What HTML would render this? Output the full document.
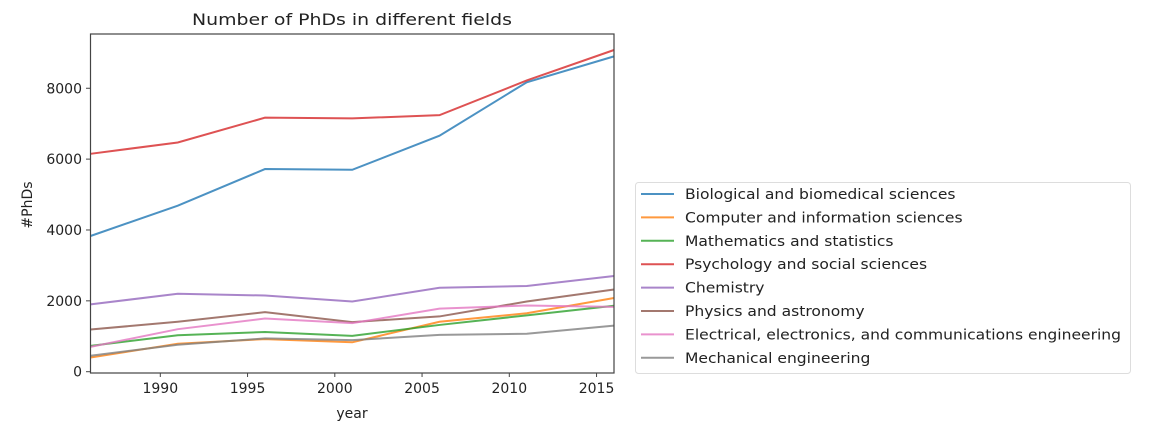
<!DOCTYPE html>
<html><head><meta charset="utf-8"><style>
html,body{margin:0;padding:0;background:#fff;}
svg{display:block;font-family:"DejaVu Sans","Liberation Sans",sans-serif;}
</style></head><body>
<svg id="chart" width="1149" height="431" viewBox="0 0 1149 431">
<text x="352" y="25" text-anchor="middle" font-size="16" textLength="320" lengthAdjust="spacingAndGlyphs" fill="#222">Number of PhDs in different fields</text>
<g id="lines"></g>
<rect x="90.5" y="34" width="523.5" height="339" fill="none" stroke="#444" stroke-width="1.2"/>
<g id="xticks"></g>
<g id="yticks"></g>
<text x="352" y="418" text-anchor="middle" font-size="14" fill="#222">year</text>
<text transform="translate(32,205) rotate(-90)" text-anchor="middle" font-size="14" fill="#222">#PhDs</text>
<rect x="635.5" y="182.5" width="495" height="191" rx="3" fill="#fff" stroke="#ddd"/>
<g id="legend"></g>
</svg>
<script>
const years = [1986, 1991, 1996, 2001, 2006, 2011, 2016];
const seriesNames = ["Biological and biomedical sciences","Computer and information sciences","Mathematics and statistics","Psychology and social sciences","Chemistry","Physics and astronomy","Electrical, electronics, and communications engineering","Mechanical engineering"];
const bio = [3830, 4685, 5720, 5700, 6660, 8170, 8900];
const cs = [400, 790, 920, 830, 1410, 1650, 2080];
const math = [730, 1030, 1120, 1010, 1320, 1590, 1860];
const psych = [6150, 6470, 7170, 7150, 7240, 8220, 9080];
const chem = [1900, 2200, 2150, 1980, 2370, 2420, 2700];
const phys = [1190, 1410, 1680, 1400, 1560, 1980, 2320];
const ee = [700, 1200, 1500, 1370, 1780, 1870, 1830];
const mech = [450, 760, 940, 890, 1040, 1070, 1300];
const xTicks = [1990, 1995, 2000, 2005, 2010, 2015];
const yTicks = [0, 2000, 4000, 6000, 8000];
const allSeries = [bio, cs, math, psych, chem, phys, ee, mech];
const colors = ["#1f77b4","#ff7f0e","#2ca02c","#d62728","#9467bd","#8c564b","#e377c2","#7f7f7f"];
const NS = "http://www.w3.org/2000/svg";
const x = v => 90.5 + (v - 1986) / 30 * 523.5;
const y = v => 371.7 - v * 0.03543;
function mk(tag, attrs, parent){const e=document.createElementNS(NS,tag);for(const k in attrs)e.setAttribute(k,attrs[k]);parent.appendChild(e);return e;}
const lines=document.getElementById('lines');
allSeries.forEach((s,i)=>{
  const p=mk('polyline',{points:s.map((v,j)=>x(years[j])+','+y(v)).join(' '),fill:'none',stroke:colors[i],'stroke-width':2,'stroke-opacity':0.8},lines);
  
  
});
const xt=document.getElementById('xticks');
xTicks.forEach(t=>{
  const l=mk('line',{x1:x(t),x2:x(t),y1:373,y2:377,stroke:'#444'},xt);
  
  
  const tx=mk('text',{x:x(t),y:393,'text-anchor':'middle','font-size':14,fill:'#222'},xt);
  tx.textContent=t;
  
  
});
const yt=document.getElementById('yticks');
yTicks.forEach(t=>{
  const l=mk('line',{x1:86,x2:90.5,y1:y(t),y2:y(t),stroke:'#444'},yt);
  
  
  const tx=mk('text',{x:82,y:y(t)+5,'text-anchor':'end','font-size':14,fill:'#222'},yt);
  tx.textContent=t;
  
  
});
const lg=document.getElementById('legend');
seriesNames.forEach((n,i)=>{
  const yy=194+i*23.4;
  const l=mk('line',{x1:641,x2:674,y1:yy,y2:yy,stroke:colors[i],'stroke-width':2,'stroke-opacity':0.8},lg);
  
  
  const tx=mk('text',{x:685,y:yy+5,'font-size':14,fill:'#222'},lg);
  tx.textContent=n;
  
  
  const w=tx.getComputedTextLength();
  tx.setAttribute('textLength', (w*1.11).toFixed(1));
  tx.setAttribute('lengthAdjust','spacingAndGlyphs');
});
</script>
</body></html>
